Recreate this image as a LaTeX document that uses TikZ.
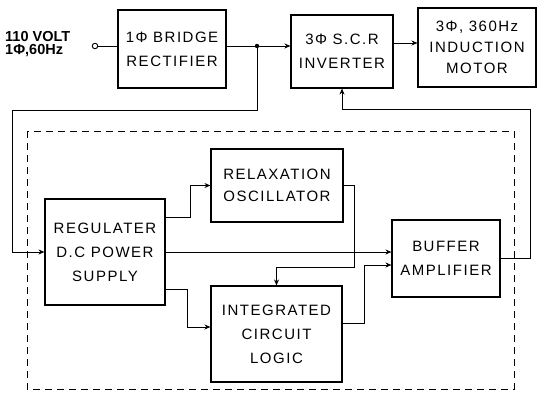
\documentclass[tikz,border=0pt]{standalone}
\usepackage{fontspec}
\setmainfont{Liberation Sans}
\newfontfamily\blkfont[LetterSpace=10]{Liberation Sans}
\usetikzlibrary{arrows.meta}

\tikzset{
  blk/.style={draw, line width=1.1pt, align=center, inner sep=2pt,
    font=\blkfont\fontsize{15}{24}\selectfont},
  con/.style={line width=0.9pt},
  arr/.style={con, -{Stealth[length=6pt,width=5pt]}},
  term/.style={draw, circle, line width=0.9pt, inner sep=0pt, minimum size=5.5pt},
  bound/.style={line width=1pt, dash pattern=on 7pt off 5pt}
}

\begin{document}
\begin{tikzpicture}[x=1pt, y=-1pt]
\useasboundingbox (0,0) rectangle (540,394);

% power stage
\node[font=\bfseries\fontsize{14.5}{13}\selectfont, align=left, anchor=west, inner sep=0pt] (mains) at (5,44) {110 VOLT\\1Φ,60Hz};
\node[term] (term) at (95,46) {};
\node[blk, minimum width=108, minimum height=78] (rect) at (172,49) {1Φ BRIDGE\\RECTIFIER};
\node[blk, minimum width=102, minimum height=73] (inv) at (342,51.5) {3Φ S.C.R\\INVERTER};
\node[blk, minimum width=118, minimum height=79, font=\blkfont\fontsize{15}{21}\selectfont] (motor) at (477,47.5) {3Φ, 360Hz\\INDUCTION\\MOTOR};

% control stage
\draw[bound] (27,131) rectangle (514,389);
\node[blk, minimum width=120, minimum height=106] (reg) at (105,252) {REGULATER\\D.C POWER\\SUPPLY};
\node[blk, minimum width=132, minimum height=73, font=\blkfont\fontsize{15}{22}\selectfont] (osc) at (277,185.5) {RELAXATION\\OSCILLATOR};
\node[blk, minimum width=131, minimum height=96] (ic) at (276.5,334) {INTEGRATED\\CIRCUIT\\LOGIC};
\node[blk, minimum width=108, minimum height=77] (buf) at (446,258.5) {BUFFER\\AMPLIFIER};

% connectors
\coordinate (jn) at (257,46);
\coordinate (lp) at (12,110);
\coordinate (fb) at (530,109);
\coordinate (k2) at (354,267);
\draw[con] (term) -- (term -| rect.west);
\draw[con] (jn -| rect.east) -- (jn);
\draw[arr] (jn) -- (jn -| inv.west);
\fill (jn) circle (2.2);
\draw[arr] (jn) |- (lp) |- (reg.west);
\draw[arr] ([yshift=8.5]inv.east) -- ([yshift=8.5]inv.east -| motor.west);
\draw[arr] (buf.east) -| (fb) -| (inv.south);
\draw[arr] (reg.east) -- (reg.east -| buf.west);
\draw[arr] ([yshift=35]reg.east) -- ++(25,0) |- (osc.west);
\draw[arr] (osc.east) -| (k2) -| (ic.north);
\draw[arr] ([yshift=-37]reg.east) -- ++(22,0) |- ([yshift=7]ic.west);
\draw[arr] ([yshift=11]ic.east) -- ++(22,0) |- ([yshift=-6.5]buf.west);
\end{tikzpicture}
\end{document}
